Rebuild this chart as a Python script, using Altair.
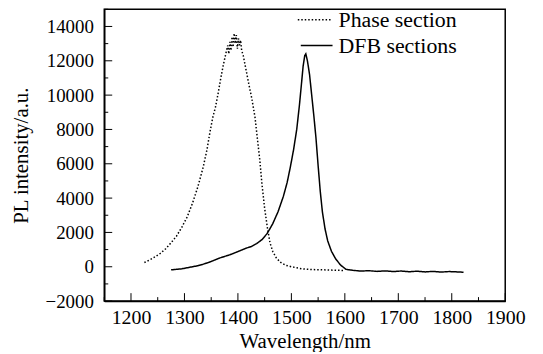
import altair as alt
import pandas as pd

# Phase section (dotted)
phase_wl = [1225, 1235, 1245, 1255, 1265, 1275, 1285, 1295, 1305, 1315, 1325, 1335, 1342, 1348,
            1353, 1358, 1363, 1368, 1373, 1378, 1381, 1383, 1385, 1387, 1389, 1391, 1393, 1395,
            1397, 1399, 1401, 1403, 1405, 1407, 1410, 1415, 1420, 1426, 1432, 1437, 1441, 1445,
            1450, 1455, 1460, 1465, 1472, 1480, 1490, 1500, 1510, 1520, 1530, 1545, 1560, 1580, 1600]
phase_pl = [250, 400, 580, 780, 1050, 1400, 1780, 2300, 2900, 3700, 4650, 5800, 6800, 7900,
            8700, 9300, 10100, 11000, 11800, 12500, 12900, 12400, 13100, 12600, 13400, 12800, 13600, 13000,
            13500, 12700, 13300, 12900, 13200, 12600, 12300, 11500, 10700, 9800, 8700, 7300, 6200, 4800,
            3400, 2300, 1400, 900, 500, 250, 80, 0, -60, -120, -150, -170, -180, -200, -220]

# DFB sections (solid)
dfb_wl = [1275, 1285, 1295, 1305, 1315, 1325, 1335, 1345, 1355, 1365, 1375, 1385, 1395, 1405,
          1415, 1425, 1435, 1445, 1455, 1465, 1475, 1485, 1492, 1498, 1504, 1510, 1515, 1519,
          1522, 1525, 1527, 1530, 1534, 1538, 1542, 1546, 1550, 1554, 1558, 1563, 1568, 1575,
          1583, 1592, 1602, 1615, 1630, 1645, 1660, 1675, 1690, 1705, 1720, 1735, 1750, 1765,
          1780, 1795, 1810, 1822]
dfb_pl = [-180, -150, -120, -60, 0, 60, 150, 250, 370, 500, 600, 700, 820, 950,
          1080, 1180, 1350, 1580, 1950, 2500, 3200, 4100, 4900, 5800, 6800, 8000, 9400, 10700,
          11700, 12300, 12400, 12000, 11200, 10000, 8800, 7500, 5900, 4400, 3200, 2200, 1500, 900,
          450, 100, -150, -210, -250, -230, -270, -240, -280, -250, -290, -260, -300, -270,
          -310, -280, -300, -320]

series_names = ["Phase section", "DFB sections"]

x_major = [1200, 1300, 1400, 1500, 1600, 1700, 1800, 1900]
x_minor = [1150, 1250, 1350, 1450, 1550, 1650, 1750, 1850]
y_major = [-2000, 0, 2000, 4000, 6000, 8000, 10000, 12000, 14000]
y_minor = [-1000, 1000, 3000, 5000, 7000, 9000, 11000, 13000, 15000]

df = pd.concat([
    pd.DataFrame({"wl": phase_wl, "pl": phase_pl, "series": series_names[0]}),
    pd.DataFrame({"wl": dfb_wl, "pl": dfb_pl, "series": series_names[1]}),
])

FONT = "Liberation Serif, Times New Roman, serif"
W, H = 404, 294

xscale = alt.Scale(domain=[1150, 1900], nice=False, zero=False)
yscale = alt.Scale(domain=[-2000, 15000], nice=False, zero=False)

common = dict(tickSize=0, grid=False, format="d", labelOverlap=False, labelBound=False,
              labelFlush=False, domainColor="black", domainWidth=1.5,
              labelFont=FONT, labelColor="black",
              titleFont=FONT, titleFontSize=21, titleColor="black", titleFontWeight="normal")
x_axis = alt.Axis(title="Wavelength/nm", values=x_major, labelPadding=7, titlePadding=3,
                  labelFontSize=20, **common)
y_axis = alt.Axis(title="PL intensity/a.u.", values=y_major, labelPadding=11, titlePadding=14,
                  labelFontSize=19, **common)

lines = alt.Chart(df).mark_line(color="black", strokeWidth=1.5).encode(
    x=alt.X("wl:Q", scale=xscale, axis=x_axis),
    y=alt.Y("pl:Q", scale=yscale, axis=y_axis),
    strokeDash=alt.StrokeDash("series:N",
                              scale=alt.Scale(domain=series_names, range=[[1.5, 2.0], [1, 0]]),
                              legend=None),
    detail="series:N",
    order="wl:Q",
)

xmaj = alt.Chart(pd.DataFrame({"wl": x_major})).mark_rule(color="black", strokeWidth=1).encode(
    x=alt.X("wl:Q", scale=xscale, axis=x_axis), y=alt.value(H), y2=alt.value(H - 8))
xmin = alt.Chart(pd.DataFrame({"wl": x_minor})).mark_rule(color="black", strokeWidth=1).encode(
    x=alt.X("wl:Q", scale=xscale, axis=x_axis), y=alt.value(H), y2=alt.value(H - 4))
ymaj = alt.Chart(pd.DataFrame({"pl": y_major})).mark_rule(color="black", strokeWidth=1).encode(
    y=alt.Y("pl:Q", scale=yscale, axis=y_axis), x=alt.value(0), x2=alt.value(8))
ymin = alt.Chart(pd.DataFrame({"pl": y_minor})).mark_rule(color="black", strokeWidth=1).encode(
    y=alt.Y("pl:Q", scale=yscale, axis=y_axis), x=alt.value(0), x2=alt.value(4))

# manual legend (top right, no frame)
leg1 = pd.DataFrame({"label": [series_names[0]]})
leg2 = pd.DataFrame({"label": [series_names[1]]})
leg_rule1 = alt.Chart(leg1).mark_rule(color="black", strokeWidth=1.5, strokeDash=[1.5, 2.0]).encode(
    x=alt.value(195), x2=alt.value(230), y=alt.value(10.5))
leg_rule2 = alt.Chart(leg2).mark_rule(color="black", strokeWidth=1.5).encode(
    x=alt.value(198), x2=alt.value(230), y=alt.value(36.5))
leg_text1 = alt.Chart(leg1).mark_text(align="left", baseline="alphabetic", font=FONT, fontSize=22,
                                      color="black").encode(
    text="label:N", x=alt.value(236), y=alt.value(18))
leg_text2 = alt.Chart(leg2).mark_text(align="left", baseline="alphabetic", font=FONT, fontSize=22,
                                      color="black").encode(
    text="label:N", x=alt.value(236), y=alt.value(44))

chart = alt.layer(lines, xmaj, xmin, ymaj, ymin, leg_rule1, leg_rule2, leg_text1, leg_text2).properties(
    width=W, height=H,
    background="white",
    autosize=alt.AutoSizeParams(type="none"),
    padding={"left": 97, "top": 0, "right": 30, "bottom": 50},
).configure_view(
    stroke="black", strokeWidth=1.5
)

chart.save("out.html", embed_options={"renderer": "svg", "actions": False})
